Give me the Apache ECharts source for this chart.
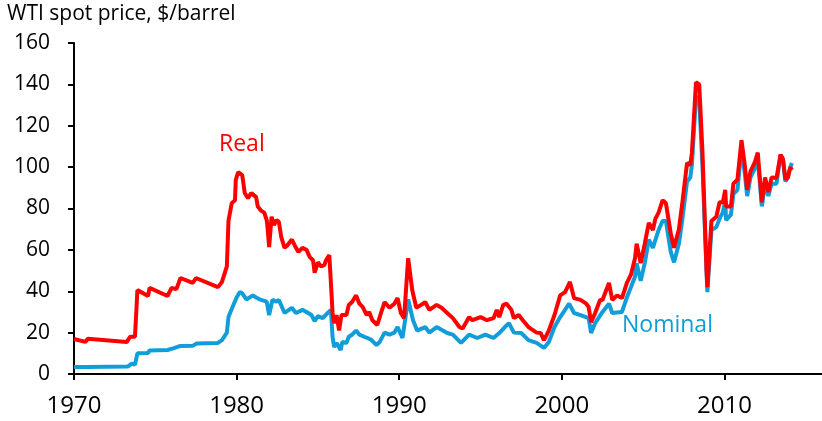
<!DOCTYPE html>
<html>
<head>
  <meta charset="utf-8">
  <title>WTI spot price</title>
  <script src="https://cdn.jsdelivr.net/npm/echarts@6/dist/echarts.min.js"></script>
  <style>
    html, body { margin: 0; padding: 0; background: #fff; }
    #chart { width: 822px; height: 421px; }
  </style>
</head>
<body>
<div id="chart"></div>
<script>
  // [year, $/barrel]
  var realPrice = [
    [1970.0, 16.9], [1970.7, 15.5], [1970.85, 17], [1973.25, 15.5], [1973.45, 18], [1973.75, 18],
    [1973.9, 40.6], [1974.55, 37.7], [1974.65, 41.6], [1975.75, 37.7], [1976.0, 41.6], [1976.3, 41],
    [1976.55, 46.4], [1977.3, 44], [1977.5, 46.4], [1978.85, 42], [1979.1, 44.5], [1979.4, 52],
    [1979.5, 74], [1979.7, 82.6], [1979.9, 84], [1979.95, 94], [1980.1, 97.6], [1980.35, 96],
    [1980.5, 87.5], [1980.7, 85], [1980.9, 87.5], [1981.2, 85.5], [1981.3, 81], [1981.5, 79],
    [1981.7, 78], [1981.85, 74.4], [1981.9, 71], [1982.0, 61.4], [1982.15, 76], [1982.3, 72],
    [1982.45, 74.4], [1982.6, 73.5], [1982.75, 66], [1982.95, 61], [1983.1, 62], [1983.4, 65],
    [1983.65, 61], [1983.8, 59], [1984.05, 61], [1984.3, 60], [1984.5, 56.5], [1984.7, 55],
    [1984.8, 49], [1985.0, 54], [1985.2, 52], [1985.4, 52.7], [1985.5, 55], [1985.7, 57.5],
    [1985.8, 44], [1985.9, 29.5], [1986.0, 24.6], [1986.15, 28.5], [1986.3, 21], [1986.45, 28.5],
    [1986.75, 28.5], [1986.9, 33.4], [1987.1, 34.8], [1987.35, 38], [1987.55, 34], [1987.75, 32.4],
    [1988.0, 28.5], [1988.15, 30], [1988.35, 26], [1988.65, 23.7], [1988.9, 30], [1989.1, 34.8],
    [1989.4, 32], [1989.7, 34], [1989.9, 36.7], [1990.1, 29.5], [1990.3, 27], [1990.55, 56],
    [1990.8, 40.6], [1991.05, 32], [1991.35, 33.4], [1991.6, 34.8], [1991.85, 31], [1992.3, 33.4],
    [1992.6, 32], [1992.95, 29.5], [1993.3, 27], [1993.7, 22.7], [1993.9, 22], [1994.3, 27.5],
    [1994.5, 26], [1995.0, 27.5], [1995.4, 26], [1995.8, 27], [1996.0, 31], [1996.15, 27.5],
    [1996.4, 33.4], [1996.6, 34], [1996.9, 31], [1997.05, 27], [1997.35, 28.5], [1997.6, 26],
    [1997.95, 22.7], [1998.45, 20], [1998.7, 19.8], [1998.9, 16.4], [1999.2, 21], [1999.55, 28.5],
    [1999.9, 38], [2000.2, 39.6], [2000.5, 44.5], [2000.75, 36.7], [2001.15, 35.8], [2001.5, 34],
    [2001.65, 32.4], [2001.8, 25], [2002.05, 29.5], [2002.35, 35.8], [2002.5, 35.8], [2002.9, 44],
    [2003.1, 35.8], [2003.4, 38], [2003.7, 36.7], [2004.0, 44], [2004.25, 48], [2004.5, 56],
    [2004.6, 63], [2004.85, 53.6], [2005.1, 63], [2005.35, 73], [2005.6, 69.6], [2005.75, 75],
    [2005.95, 78], [2006.2, 84], [2006.4, 82.6], [2006.7, 68], [2006.9, 61], [2007.2, 70],
    [2007.4, 82], [2007.7, 102], [2007.9, 101], [2008.0, 107], [2008.25, 141], [2008.45, 140],
    [2008.65, 107], [2008.9, 50], [2008.95, 42], [2009.2, 74], [2009.5, 76], [2009.7, 83],
    [2009.9, 83], [2010.05, 89], [2010.1, 81], [2010.4, 81], [2010.55, 92], [2010.8, 94],
    [2011.05, 113], [2011.25, 101], [2011.4, 89], [2011.6, 98], [2011.85, 102], [2012.05, 107],
    [2012.3, 83], [2012.5, 95], [2012.7, 88], [2012.9, 95], [2013.2, 94.7], [2013.45, 106],
    [2013.6, 104], [2013.75, 94], [2013.9, 95], [2014.05, 100], [2014.15, 98.6]
  ]

  var nominalPrice = [
    [1970.0, 3.4], [1970.8, 3.4], [1970.9, 3.6], [1973.3, 3.6], [1973.55, 5], [1973.75, 4.5],
    [1973.9, 10], [1974.55, 10.2], [1974.65, 11.4], [1975.75, 11.6], [1976.1, 12.4], [1976.5, 13.5],
    [1977.3, 13.6], [1977.55, 14.8], [1978.85, 15], [1979.1, 16.4], [1979.4, 20], [1979.5, 27.5],
    [1979.75, 32.4], [1980.0, 37], [1980.2, 39.6], [1980.35, 39], [1980.6, 36], [1981.0, 38],
    [1981.2, 37], [1981.5, 35.8], [1981.85, 35], [1982.0, 28.5], [1982.2, 35.8], [1982.45, 35],
    [1982.6, 35.8], [1982.95, 29.5], [1983.4, 32], [1983.65, 29.5], [1984.05, 31], [1984.3, 30],
    [1984.6, 28.5], [1984.8, 25.6], [1985.0, 28], [1985.3, 27], [1985.6, 29.5], [1985.8, 31],
    [1985.9, 18], [1986.0, 13], [1986.15, 15], [1986.4, 11.6], [1986.5, 15.5], [1986.75, 15],
    [1986.9, 18], [1987.1, 19], [1987.35, 21], [1987.55, 19], [1987.85, 18], [1988.05, 17.4],
    [1988.3, 16.4], [1988.6, 14], [1988.8, 15.5], [1989.1, 20], [1989.4, 19], [1989.7, 20],
    [1989.9, 22.7], [1990.2, 17.4], [1990.55, 36], [1990.85, 26], [1991.1, 21], [1991.6, 22.7],
    [1991.85, 20], [1992.3, 22.7], [1992.95, 19.8], [1993.3, 19], [1993.8, 15], [1994.3, 19],
    [1994.8, 17.4], [1995.3, 19], [1995.8, 17.4], [1996.15, 19.8], [1996.5, 22.7], [1996.75, 24.6],
    [1997.05, 20], [1997.5, 19.8], [1997.95, 16.4], [1998.45, 15], [1998.9, 12.6], [1999.2, 15.5],
    [1999.55, 22.7], [1999.9, 27.5], [2000.45, 34], [2000.75, 29.5], [2001.15, 28.5], [2001.65, 27],
    [2001.8, 19.8], [2002.05, 24.6], [2002.5, 30], [2002.9, 34], [2003.1, 29.5], [2003.7, 30],
    [2004.0, 37], [2004.5, 47], [2004.6, 53.6], [2004.85, 45], [2005.1, 53.6], [2005.35, 65],
    [2005.6, 61], [2005.95, 69.6], [2006.2, 74], [2006.4, 74], [2006.7, 59], [2006.9, 54],
    [2007.2, 63], [2007.4, 74], [2007.7, 93], [2007.9, 95], [2008.0, 101], [2008.25, 134],
    [2008.45, 133], [2008.65, 100], [2008.95, 39.6], [2009.2, 69.6], [2009.5, 71], [2009.75, 76],
    [2009.9, 78], [2010.05, 84], [2010.1, 74.4], [2010.4, 77], [2010.55, 87], [2010.8, 89],
    [2011.05, 109], [2011.25, 97], [2011.4, 86], [2011.6, 95], [2011.85, 99], [2012.05, 104],
    [2012.3, 81], [2012.5, 92], [2012.7, 86], [2012.9, 92], [2013.2, 92], [2013.45, 106],
    [2013.6, 103], [2013.75, 93], [2013.9, 95], [2014.05, 100], [2014.15, 102]
  ]

  var yearTicks = [1970, 1980, 1990, 2000, 2010]

  var red = '#FF0000'
  var blue = '#109DD9'
  var font = 'Open Sans'

  var myChart = echarts.init(document.getElementById('chart'))
  myChart.setOption({
    animation: false,
    textStyle: { fontFamily: font },
    grid: {
      left: 74,
      top: 43,
      width: 749,
      height: 331
    },
    graphic: [
      {
        type: 'text', left: 7, top: 4,
        style: { text: 'WTI spot price, $/barrel', font: '21px "Open Sans"', fill: '#000' }
      },
      {
        type: 'text', left: 219, top: 133,
        style: { text: 'Real', font: '23px "Open Sans"', fill: red }
      },
      {
        type: 'text', left: 622, top: 314,
        style: { text: 'Nominal', font: '23px "Open Sans"', fill: blue }
      }
    ],
    xAxis: {
      type: 'value',
      min: 1970,
      max: 2016,
      splitLine: { show: false },
      axisLine: { lineStyle: { color: '#000', width: 2 } },
      axisTick: { customValues: yearTicks, length: 6, lineStyle: { color: '#000', width: 2 } },
      axisLabel: {
        customValues: yearTicks,
        color: '#000',
        fontSize: 24,
        margin: 20,
        fontFamily: font,
        formatter: function (v) { return String(v) }
      }
    },
    yAxis: {
      type: 'value',
      min: 0,
      max: 160,
      interval: 20,
      splitLine: { show: false },
      axisLine: { show: true, lineStyle: { color: '#000', width: 2 } },
      axisTick: { show: true, length: 6, lineStyle: { color: '#000', width: 2 } },
      axisLabel: { color: '#000', fontSize: 21, margin: 24, fontFamily: font }
    },
    series: [
      {
        name: 'Nominal',
        type: 'line',
        data: nominalPrice,
        showSymbol: false,
        lineStyle: { color: blue, width: 4 }
      },
      {
        name: 'Real',
        type: 'line',
        data: realPrice,
        showSymbol: false,
        lineStyle: { color: red, width: 4 }
      }
    ]
  })
</script>
</body>
</html>
